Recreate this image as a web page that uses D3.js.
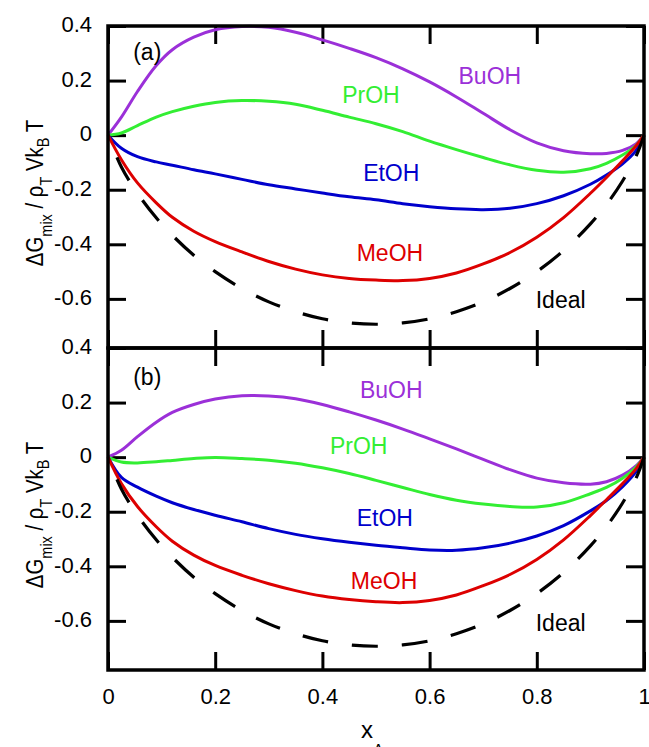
<!DOCTYPE html>
<html>
<head>
<meta charset="utf-8">
<script src="https://cdn.jsdelivr.net/npm/d3@7"></script>
<style>
  body { margin: 0; background: #fff; }
  text { font-family: "Liberation Sans", Arial, Helvetica, sans-serif; }
</style>
</head>
<body>
<div id="chart"></div>
<script>
const svgWidth = 649;
const svgHeight = 747;

let margin = { top: 26, right: 5, bottom: 77, left: 108 };
let width = svgWidth - margin.left - margin.right;
let panelHeight = (svgHeight - margin.top - margin.bottom) / 2;

// shared mole fraction grid
const xA = [0, 0.025, 0.055, 0.09, 0.12, 0.16, 0.2, 0.25, 0.3, 0.35, 0.4, 0.45, 0.5,
            0.55, 0.6, 0.65, 0.7, 0.75, 0.8, 0.85, 0.9, 0.93, 0.96, 0.985, 1];

// panel (a)
const buohA = [0, 0.066, 0.16, 0.255, 0.313, 0.359, 0.386, 0.398, 0.395, 0.377, 0.349, 0.318, 0.284,
               0.243, 0.195, 0.14, 0.08, 0.02, -0.028, -0.057, -0.068, -0.067, -0.056, -0.032, 0];
const prohA = [0, 0.008, 0.035, 0.066, 0.086, 0.106, 0.12, 0.127, 0.124, 0.113, 0.091, 0.066, 0.042,
               0.013, -0.022, -0.053, -0.082, -0.109, -0.129, -0.136, -0.123, -0.103, -0.073, -0.038, 0];
const etohA = [0, -0.048, -0.079, -0.098, -0.11, -0.127, -0.142, -0.162, -0.182, -0.197, -0.212, -0.226, -0.237,
               -0.251, -0.262, -0.27, -0.273, -0.268, -0.251, -0.222, -0.18, -0.146, -0.105, -0.057, 0];
const meohA = [0, -0.09, -0.175, -0.248, -0.301, -0.352, -0.39, -0.428, -0.463, -0.491, -0.512, -0.525, -0.531,
               -0.533, -0.525, -0.505, -0.472, -0.43, -0.374, -0.302, -0.213, -0.155, -0.094, -0.04, 0];

// panel (b)
const buohB = [0, 0.025, 0.075, 0.128, 0.164, 0.193, 0.213, 0.225, 0.224, 0.214, 0.193, 0.166, 0.136,
               0.103, 0.067, 0.03, -0.008, -0.046, -0.077, -0.094, -0.099, -0.09, -0.066, -0.032, 0];
const prohB = [0, -0.018, -0.021, -0.017, -0.012, -0.005, -0.001, -0.005, -0.011, -0.022, -0.039, -0.06, -0.085,
               -0.111, -0.137, -0.158, -0.172, -0.181, -0.183, -0.167, -0.134, -0.111, -0.077, -0.037, 0];
const etohB = [0, -0.074, -0.11, -0.143, -0.167, -0.192, -0.213, -0.237, -0.262, -0.283, -0.299, -0.312, -0.323,
               -0.332, -0.34, -0.341, -0.332, -0.315, -0.289, -0.251, -0.197, -0.159, -0.108, -0.053, 0];
const meohB = [0, -0.097, -0.181, -0.255, -0.308, -0.359, -0.397, -0.433, -0.464, -0.489, -0.509, -0.522, -0.53,
               -0.533, -0.525, -0.505, -0.471, -0.43, -0.375, -0.303, -0.214, -0.156, -0.097, -0.043, 0];

// ideal mixing, same in both panels
const ideal = [0, -0.117, -0.213, -0.303, -0.367, -0.44, -0.5, -0.562, -0.611, -0.647, -0.673, -0.688, -0.693,
               -0.688, -0.673, -0.647, -0.611, -0.562, -0.5, -0.423, -0.325, -0.254, -0.168, -0.078, 0];

const seriesNames = ['BuOH', 'PrOH', 'EtOH', 'MeOH', 'Ideal'];
const seriesColors = ['#9b30d8', '#33ee33', '#0000cc', '#dd0000', '#000000'];

// label anchors (x, y in data units)
const labelPosA = [[0.654, 0.189], [0.437, 0.116], [0.476, -0.169], [0.464, -0.462], [0.798, -0.635]];
const labelPosB = [[0.47, 0.218], [0.414, 0.01], [0.464, -0.253], [0.453, -0.482], [0.798, -0.636]];

const xTicks = [0, 0.2, 0.4, 0.6, 0.8, 1];
const yTicks = [-0.6, -0.4, -0.2, 0, 0.2, 0.4];
const yDomain = [-0.78, 0.4];

let panels = [
    { tag: '(a)', tagPos: [0.047, 0.275], data: [buohA, prohA, etohA, meohA, ideal], labels: labelPosA },
    { tag: '(b)', tagPos: [0.047, 0.266], data: [buohB, prohB, etohB, meohB, ideal], labels: labelPosB }
];

let svg = d3.select('#chart')
    .append('svg')
    .attr('width', svgWidth)
    .attr('height', svgHeight);

let x = d3.scaleLinear().domain([0, 1]).range([0, width]);
let y = d3.scaleLinear().domain(yDomain).range([panelHeight, 0]);

const tickLen = 18;
const fmt = d => d === 0 ? '0' : String(d);

panels.forEach((p, i) => {
    let g = svg.append('g')
        .attr('transform', `translate(${margin.left}, ${margin.top + i * panelHeight})`);

    // axes with inward ticks
    let left = g.append('g')
        .call(d3.axisLeft(y).tickValues(yTicks).tickSizeInner(-tickLen).tickSizeOuter(0)
            .tickPadding(16).tickFormat(fmt));
    let right = g.append('g')
        .attr('transform', `translate(${width},0)`)
        .call(d3.axisRight(y).tickValues(yTicks).tickSizeInner(-tickLen).tickSizeOuter(0).tickFormat(''));
    let top = g.append('g')
        .call(d3.axisTop(x).tickValues(xTicks).tickSizeInner(-tickLen).tickSizeOuter(0).tickFormat(''));
    let bottom = g.append('g')
        .attr('transform', `translate(0,${panelHeight})`)
        .call(d3.axisBottom(x).tickValues(xTicks).tickSizeInner(-tickLen).tickSizeOuter(0)
            .tickPadding(18).tickFormat(i === 1 ? fmt : ''));

    [left, right, top, bottom].forEach(a => {
        a.select('.domain').remove();
        a.selectAll('line').attr('stroke', '#000').attr('stroke-width', 3);
        a.selectAll('text').attr('font-size', 22).attr('fill', '#000')
            .style('font-family', '"Liberation Sans", Arial, sans-serif');
    });
    left.selectAll('text').attr('dy', '0.26em');

    let line = d3.line()
        .x((d, k) => x(xA[k]))
        .y(d => y(d))
        .curve(d3.curveCatmullRom.alpha(0.5));

    p.data.forEach((vals, s) => {
        let path = g.append('path')
            .datum(vals)
            .attr('fill', 'none')
            .attr('stroke', seriesColors[s])
            .attr('stroke-width', s === 4 ? 3.2 : 3)
            .attr('d', line);
        if (s === 4) {
            path.attr('stroke-dasharray', '26,24').attr('stroke-dashoffset', 26);
        }
    });

    // curve names
    g.selectAll('.curveLabel')
        .data(seriesNames)
        .enter()
        .append('text')
        .attr('class', 'curveLabel')
        .attr('x', (d, s) => x(p.labels[s][0]))
        .attr('y', (d, s) => y(p.labels[s][1]))
        .attr('font-size', 23)
        .attr('fill', (d, s) => seriesColors[s])
        .text(d => d);

    g.append('text')
        .attr('x', x(p.tagPos[0]))
        .attr('y', y(p.tagPos[1]))
        .attr('font-size', 23)
        .text(p.tag);

    // frame
    g.append('rect')
        .attr('width', width)
        .attr('height', panelHeight)
        .attr('fill', 'none')
        .attr('stroke', '#000')
        .attr('stroke-width', 3.5);

    // y label (slightly condensed along its reading direction, like the original)
    let yl = svg.append('text')
        .attr('transform', `translate(43, ${margin.top + i * panelHeight + panelHeight / 2 + 6}) rotate(-90) scale(0.85,1)`)
        .attr('text-anchor', 'middle')
        .attr('font-size', 24);
    yl.append('tspan').text('\u0394G');
    yl.append('tspan').attr('font-size', 17).attr('dy', 9).text('mix');
    yl.append('tspan').attr('dy', -9).text(' / \u03C1');
    yl.append('tspan').attr('font-size', 17).attr('dy', 9).text('T');
    yl.append('tspan').attr('dy', -9).text(' Vk');
    yl.append('tspan').attr('font-size', 17).attr('dy', 6).text('B');
    yl.append('tspan').attr('dy', -6).text(' T');
});

// x label
let xl = svg.append('text')
    .attr('x', 361)
    .attr('y', 738)
    .attr('font-size', 24);
xl.append('tspan').text('x');
xl.append('tspan').attr('font-size', 16).attr('dy', 18).text('A');
</script>
</body>
</html>
